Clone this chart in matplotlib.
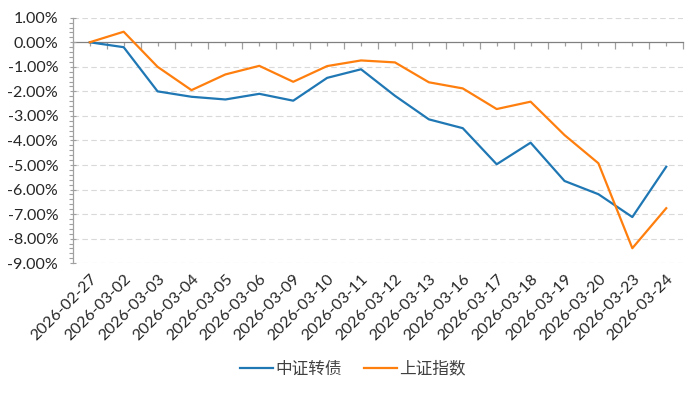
import matplotlib
matplotlib.use("Agg")
import matplotlib.pyplot as plt
from matplotlib.ticker import FixedLocator, MultipleLocator, FuncFormatter

dates = ["2026-02-27", "2026-03-02", "2026-03-03", "2026-03-04", "2026-03-05",
         "2026-03-06", "2026-03-09", "2026-03-10", "2026-03-11", "2026-03-12",
         "2026-03-13", "2026-03-16", "2026-03-17", "2026-03-18", "2026-03-19",
         "2026-03-20", "2026-03-23", "2026-03-24"]
zz_convertible = [0.00, -0.20, -2.00, -2.22, -2.33, -2.10, -2.38, -1.45, -1.10, -2.18,
                  -3.14, -3.50, -4.97, -4.09, -5.65, -6.19, -7.12, -5.07]
sh_index = [0.00, 0.43, -1.00, -1.95, -1.31, -0.96, -1.61, -0.97, -0.74, -0.82,
            -1.63, -1.88, -2.72, -2.42, -3.78, -4.93, -8.39, -6.76]
series_names = ["中证转债", "上证指数"]

plt.rcParams['font.family'] = ['Lato', 'Noto Sans CJK SC', 'DejaVu Sans']

fig = plt.figure(figsize=(7.0, 3.94), dpi=100)
ax = fig.add_axes([0.104, 0.332, 0.872, 0.623])

x = list(range(len(dates)))
blue = "#1f77b4"
orange = "#ff7f0e"
ax.plot(x, zz_convertible, color=blue, lw=1.6, label=series_names[0], zorder=3)
ax.plot(x, sh_index, color=orange, lw=1.6, label=series_names[1], zorder=3)

ax.set_xlim(-0.5, len(dates) - 0.5)
ax.set_ylim(-9, 1)

# y axis
ax.yaxis.set_major_locator(MultipleLocator(1))
ax.yaxis.set_minor_locator(MultipleLocator(0.2))
ax.yaxis.set_major_formatter(FuncFormatter(lambda v, p: f"{v:.2f}%"))
ax.tick_params(axis='y', which='major', length=5, width=0.8, color='#a0a0a0',
               labelsize=11.5, labelcolor='#262626', pad=8, direction='inout')
ax.tick_params(axis='y', which='minor', length=3, width=0.8, color='#a0a0a0', direction='out')
for gy in range(-9, 2):
    if gy != 0:
        ax.axhline(gy, color='#d9d9d9', lw=0.8, ls=(0, (5, 3)), zorder=1)

for s in ['top', 'right', 'bottom']:
    ax.spines[s].set_visible(False)
ax.spines['left'].set_color('#a0a0a0')
ax.spines['left'].set_linewidth(0.9)

# x labels at bottom
ax.set_xticks(x)
ax.set_xticklabels(dates, rotation=45, ha='right', rotation_mode='anchor')
ax.tick_params(axis='x', which='both', length=0, labelsize=11.5, labelcolor='#262626', pad=6)

# zero axis with tick marks
sec = ax.secondary_xaxis(0.9)
for s in sec.spines.values():
    s.set_visible(False)
sec.spines['top'].set_visible(True)
sec.spines['top'].set_color('#808080')
sec.spines['top'].set_linewidth(0.9)
sec.xaxis.set_major_locator(FixedLocator([i - 0.5 for i in range(len(dates) + 1)]))
sec.xaxis.set_minor_locator(FixedLocator(x))
sec.tick_params(axis='x', which='major', length=5, width=0.9, color='#a0a0a0',
                direction='in', labelbottom=False, labeltop=False)
sec.tick_params(axis='x', which='minor', length=3, width=0.9, color='#a0a0a0',
                direction='in', labelbottom=False, labeltop=False)

leg = fig.legend(loc='center', bbox_to_anchor=(0.504, 0.063), ncol=2, frameon=False,
                 prop={'family': ['Noto Sans CJK SC', 'DejaVu Sans'], 'size': 12},
                 handlelength=2.0, columnspacing=1.3, handletextpad=0.15)
for t in leg.get_texts():
    t.set_color('#404040')

fig.savefig("out.png", dpi=100)
